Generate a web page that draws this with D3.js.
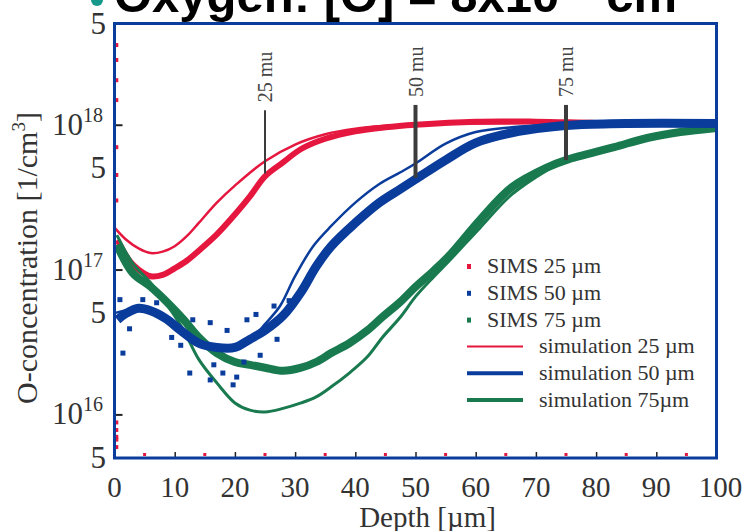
<!DOCTYPE html>
<html>
<head>
<meta charset="utf-8">
<script src="https://cdn.jsdelivr.net/npm/d3@7"></script>
<style>
  body { margin: 0; background: #fff; }
  svg { display: block; }
</style>
</head>
<body>
<svg id="chart" width="744" height="531"></svg>
<script>
// depth in um, oxygen concentration in 1/cm^3
const sim25Depth = [0, 2, 4, 6, 8, 10, 12, 14, 17, 20, 25, 30, 35, 40, 45, 50, 60, 70, 80, 92];
const sim25Conc = [1.95e17, 1.6e17, 1.4e17, 1.3e17, 1.33e17, 1.45e17, 1.7e17, 2.1e17, 2.9e17, 3.8e17,
  5.6e17, 7.3e17, 8.6e17, 9.4e17, 9.8e17, 1.0e18, 1.02e18, 1.03e18, 1.03e18, 1.03e18];

const sims25Depth = [0.5, 2.5, 4, 6, 8, 10, 12, 14, 17, 20, 22.5, 25, 28, 31, 35, 40, 45, 50, 60, 70, 80, 91];
const sims25Conc = [1.6e17, 1.15e17, 1.0e17, 9.0e16, 9.2e16, 1.02e17, 1.15e17, 1.35e17, 1.75e17, 2.4e17, 3.2e17,
  4.4e17, 5.5e17, 6.8e17, 8.0e17, 9.0e17, 9.6e17, 1.0e18, 1.05e18, 1.05e18, 1.03e18, 1.02e18];
// surface points of the 25 um sample, spread over the whole range
const sims25SurfaceConc = [3.55e18, 2.8e18, 2.03e18, 1.48e18, 7e17, 4.5e17, 3e17, 8.8e15, 7.8e15, 7.0e15, 6.7e15, 5.95e15];

const sim50Depth = [0, 3, 6, 9, 12, 15, 18, 21, 23, 25, 27.5, 30, 33, 36, 40, 44, 47.5, 50, 55, 60, 66, 72, 80, 100];
const sim50Conc = [5.0e16, 5.3e16, 5.1e16, 4.4e16, 3.6e16, 3.1e16, 2.8e16, 2.9e16, 3.4e16, 4.2e16, 5.6e16, 9.0e16,
  1.45e17, 2.0e17, 2.9e17, 3.9e17, 4.7e17, 5.4e17, 7.4e17, 8.9e17, 9.6e17, 1.0e18, 1.02e18, 1.02e18];

const sims50Depth = [0.5, 2, 4, 6, 8.5, 11, 14, 17, 20, 22.5, 25, 28, 31, 33.5, 36, 40, 44, 47.5, 50, 55, 60, 66, 72, 77, 85, 100];
const sims50Conc = [4.5e16, 5.0e16, 5.4e16, 5.2e16, 4.6e16, 3.8e16, 3.1e16, 2.9e16, 2.9e16, 3.3e16, 3.8e16, 4.8e16,
  7.0e16, 1.05e17, 1.45e17, 2.1e17, 2.9e17, 3.6e17, 4.2e17, 5.7e17, 7.5e17, 8.8e17, 9.6e17, 1.0e18, 1.02e18, 1.02e18];
// scattered SIMS 50 um points around the minimum
const sims50ScatterDepth = [1.4, 12.5, 15.9, 18.0, 19.7, 20.3, 13.0, 15.9, 22.0, 24.2, 4.7, 0.9, 18.7,
  9.5, 11.0, 16.5, 21.5, 23.5, 26.5, 27.0, 29.0, 2.5, 7.0];
const sims50ScatterConc = [2.65e16, 1.93e16, 1.73e16, 1.93e16, 1.6e16, 1.81e16, 4.5e16, 4.3e16, 4.5e16, 2.56e16,
  6.2e16, 6.2e16, 3.8e16, 3.4e16, 3.0e16, 2.2e16, 2.3e16, 4.9e16, 5.6e16, 3.3e16, 6.1e16, 3.9e16, 5.9e16];

const sim75Depth = [0.4, 3, 6, 9, 11.5, 14, 17, 20, 22.5, 25, 28, 31, 33.5, 36, 39, 42, 44.5, 47.5, 50, 53, 55.7,
  60.7, 66, 72, 75, 83, 88.5, 94, 100];
const sim75Conc = [1.73e17, 1.11e17, 8.1e16, 5.5e16, 3.8e16, 2.4e16, 1.65e16, 1.2e16, 1.07e16, 1.04e16, 1.1e16, 1.2e16,
  1.32e16, 1.55e16, 1.93e16, 2.5e16, 3.4e16, 4.7e16, 6.5e16, 8.9e16, 1.16e17, 1.94e17, 3.3e17, 4.9e17, 5.7e17,
  7.0e17, 8.1e17, 8.9e17, 9.5e17];

const sims75Depth = sim75Depth;
const sims75Conc = [1.48e17, 9.5e16, 7.6e16, 5.8e16, 4.5e16, 3.4e16, 2.65e16, 2.3e16, 2.2e16, 2.1e16, 2.0e16, 2.1e16,
  2.3e16, 2.65e16, 3.1e16, 3.8e16, 4.7e16, 6.0e16, 7.6e16, 9.8e16, 1.26e17, 2.2e17, 3.7e17, 5.1e17, 5.7e17,
  7.0e17, 8.1e17, 8.9e17, 9.5e17];

// depth markers
const markerDepth = [25, 50, 75];
const markerLabels = ["25 mu", "50 mu", "75 mu"];
const markerTop = [1.26e18, 1.37e18, 1.37e18];
const markerBottom = [4.6e17, 4.3e17, 5.7e17];

const xTicks = [0, 10, 20, 30, 40, 50, 60, 70, 80, 90, 100];
const xMinorTicks = [5, 15, 25, 35, 45, 55, 65, 75, 85, 95];
const yTicks = [5e15, 1e16, 5e16, 1e17, 5e17, 1e18, 5e18];

const legendLabels = ["SIMS 25 \u00b5m", "SIMS 50 \u00b5m", "SIMS 75 \u00b5m",
  "simulation 25 \u00b5m", "simulation 50 \u00b5m", "simulation 75\u00b5m"];

const RED = "#e5173f", BLUE = "#0a3c9c", GREEN = "#187a4e";
const SERIF = "'Liberation Serif', 'Times New Roman', serif";

function zip(xs, ys) {
  return xs.map((x, i) => ({ d: x, c: ys[i] }));
}

drawChart("#chart");

function drawChart(svgID) {
  var svg = d3.select(svgID);
  var left = 114.5, right = 716.5, top = 23.5, bottom = 458;

  var x = d3.scaleLinear().domain([0, 100]).range([left, right]);
  var y = d3.scaleLog().domain([5e15, 5e18]).range([bottom, top]);

  // title, cut off by the top edge
  var title = svg.append("text")
    .attr("x", 114).attr("y", 12)
    .attr("font-family", "'Liberation Sans', Arial, sans-serif")
    .attr("font-weight", "bold").attr("font-size", 49)
    .attr("fill", "#000");
  title.append("tspan").text("Oxygen: [O] = 8x10");
  title.append("tspan").attr("font-size", 30).attr("dy", -20).text("17");
  title.append("tspan").attr("dy", 20).text(" cm");
  title.append("tspan").attr("font-size", 30).attr("dy", -20).text("-3");
  svg.append("circle").attr("cx", 97).attr("cy", 0).attr("r", 6).attr("fill", "#16988a");

  // axes ticks inside the frame
  var xAxis = d3.axisTop(x).tickValues(xTicks).tickSize(6).tickFormat("");
  svg.append("g").attr("transform", "translate(0," + bottom + ")").call(xAxis)
    .call(g => g.select(".domain").remove())
    .selectAll("line").attr("stroke", "#222").attr("stroke-width", 1.5);

  svg.append("g").selectAll("rect").data(xMinorTicks).enter().append("rect")
    .attr("x", d => x(d) - 1.5).attr("y", bottom - 5).attr("width", 3).attr("height", 3)
    .attr("fill", RED);

  var yAxis = d3.axisRight(y).tickValues([1e16, 1e17, 1e18]).tickSize(8).tickFormat("");
  svg.append("g").attr("transform", "translate(" + left + ",0)").call(yAxis)
    .call(g => g.select(".domain").remove())
    .selectAll("line").attr("stroke", "#222").attr("stroke-width", 2);

  // tick labels
  svg.append("g").selectAll("text").data(xTicks).enter().append("text")
    .attr("x", d => x(d) + (d == 100 ? 4 : 0)).attr("y", 497)
    .attr("text-anchor", "middle")
    .attr("font-family", SERIF).attr("font-size", 29).attr("fill", "#333")
    .text(d => d);

  var yLab = svg.append("g").selectAll("text").data(yTicks).enter().append("text")
    .attr("x", 106).attr("y", d => y(d) + 10)
    .attr("text-anchor", "end")
    .attr("font-family", SERIF).attr("font-size", 31).attr("fill", "#333");
  yLab.each(function(d) {
    var t = d3.select(this);
    var exp = Math.round(Math.log10(d));
    if (Math.abs(d - Math.pow(10, exp)) < 1) {
      t.attr("x", 103);
      t.append("tspan").text("10");
      t.append("tspan").attr("font-size", 20).attr("dy", -13).text(exp);
    } else {
      t.text("5");
    }
  });

  svg.append("text")
    .attr("x", (left + right) / 2 + 12).attr("y", 527)
    .attr("text-anchor", "middle")
    .attr("font-family", SERIF).attr("font-size", 29).attr("fill", "#333")
    .text("Depth [\u00b5m]");

  var yTitle = svg.append("text")
    .attr("transform", "translate(37,258) rotate(-90)")
    .attr("text-anchor", "middle")
    .attr("font-family", SERIF).attr("font-size", 30).attr("fill", "#333");
  yTitle.append("tspan").text("O-concentration [1/cm");
  yTitle.append("tspan").attr("font-size", 19).attr("dy", -12).text("3");
  yTitle.append("tspan").attr("dy", 12).text("]");

  // data
  var line = d3.line().x(p => x(p.d)).y(p => y(p.c)).curve(d3.curveCatmullRom);
  var plot = svg.append("g");

  plot.append("path").datum(zip(sims25Depth, sims25Conc)).attr("d", line)
    .attr("fill", "none").attr("stroke", RED).attr("stroke-width", 6);
  plot.append("path").datum(zip(sim25Depth, sim25Conc)).attr("d", line)
    .attr("fill", "none").attr("stroke", RED).attr("stroke-width", 2.5);

  plot.append("path").datum(zip(sims75Depth, sims75Conc)).attr("d", line)
    .attr("fill", "none").attr("stroke", GREEN).attr("stroke-width", 8);
  plot.append("path").datum(zip(sim75Depth, sim75Conc)).attr("d", line)
    .attr("fill", "none").attr("stroke", GREEN).attr("stroke-width", 3);

  plot.append("path").datum(zip(sims50Depth, sims50Conc)).attr("d", line)
    .attr("fill", "none").attr("stroke", BLUE).attr("stroke-width", 9);
  plot.append("path").datum(zip(sim50Depth, sim50Conc)).attr("d", line)
    .attr("fill", "none").attr("stroke", BLUE).attr("stroke-width", 2.5);

  plot.append("g").selectAll("rect").data(zip(sims50ScatterDepth, sims50ScatterConc)).enter().append("rect")
    .attr("x", p => x(p.d) - 2.5).attr("y", p => y(p.c) - 2.5).attr("width", 5).attr("height", 5)
    .attr("fill", BLUE);

  plot.append("g").selectAll("rect").data(sims25SurfaceConc).enter().append("rect")
    .attr("x", x(0.3) - 1).attr("y", c => y(c) - 2).attr("width", 3).attr("height", 4)
    .attr("fill", RED);

  // depth markers
  markerDepth.forEach(function(d, i) {
    svg.append("line")
      .attr("x1", x(d)).attr("x2", x(d))
      .attr("y1", y(markerTop[i])).attr("y2", y(markerBottom[i]))
      .attr("stroke", "#3c3c3c").attr("stroke-width", i == 0 ? 2 : 4);
    svg.append("text")
      .attr("transform", "translate(" + (x(d) + 7) + "," + (y(markerTop[i]) - 8) + ") rotate(-90)")
      .attr("font-family", SERIF).attr("font-size", 20).attr("fill", "#444")
      .text(markerLabels[i]);
  });

  // frame
  svg.append("rect")
    .attr("x", left).attr("y", top).attr("width", right - left).attr("height", bottom - top)
    .attr("fill", "none").attr("stroke", BLUE).attr("stroke-width", 3);

  // legend
  var colors = [RED, BLUE, GREEN];
  var lg = svg.append("g").attr("font-family", SERIF).attr("font-size", 22).attr("fill", "#333");
  legendLabels.forEach(function(label, i) {
    var ly = 266 + i * 26.8;
    var c = colors[i % 3];
    if (i < 3) {
      lg.append("rect").attr("x", 467).attr("y", ly - 2).attr("width", 4).attr("height", 5).attr("fill", c);
      lg.append("text").attr("x", 487).attr("y", ly + 7).text(label);
    } else {
      lg.append("line").attr("x1", 467).attr("x2", 523).attr("y1", ly).attr("y2", ly)
        .attr("stroke", c).attr("stroke-width", i == 3 ? 2 : 4);
      lg.append("text").attr("x", 539).attr("y", ly + 7).text(label);
    }
  });
}
</script>
</body>
</html>
